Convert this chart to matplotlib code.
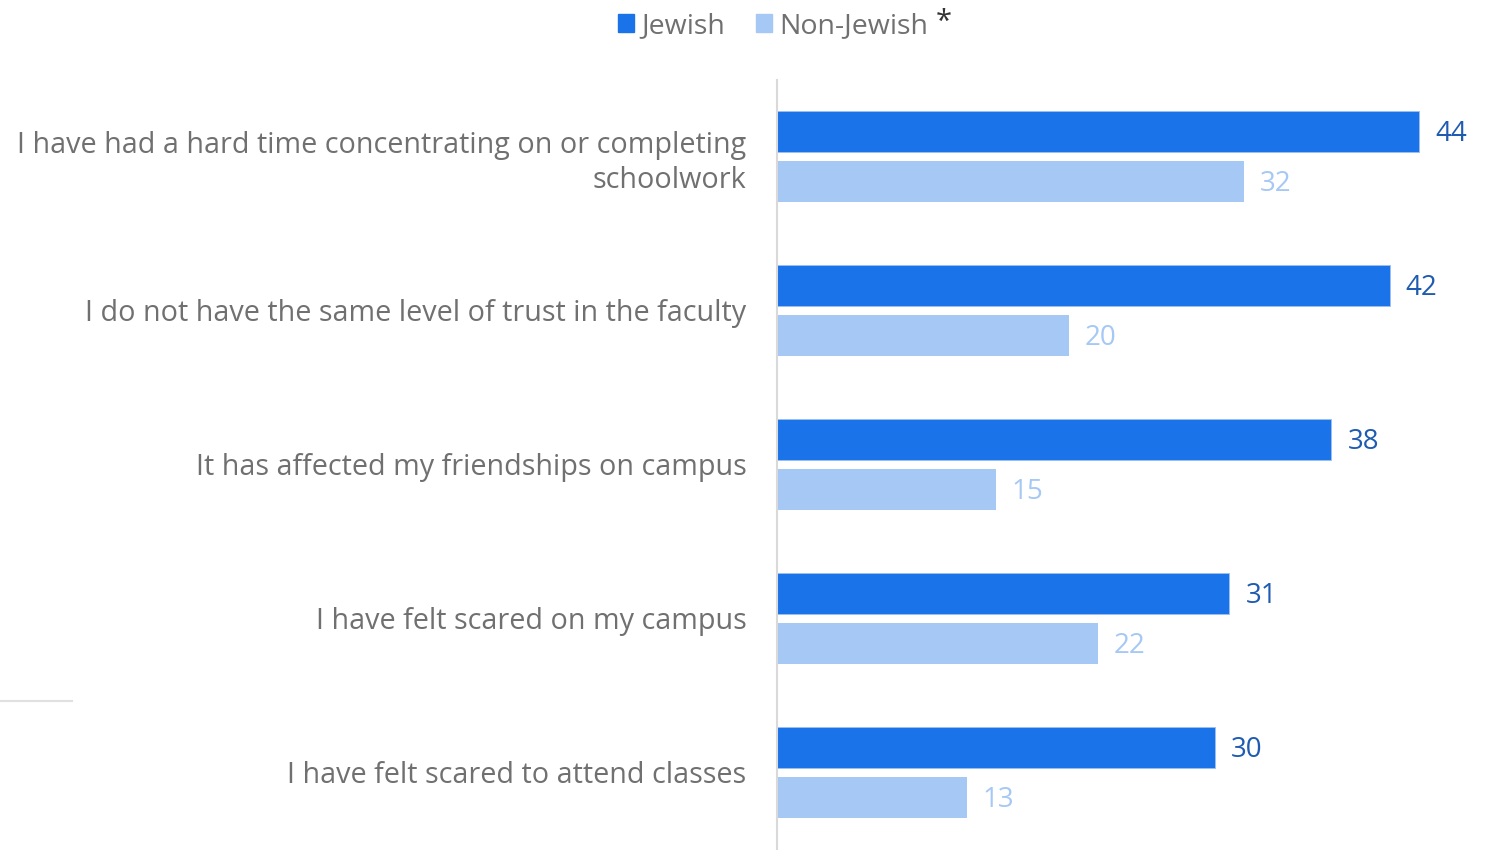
import matplotlib.pyplot as plt
from matplotlib.patches import Patch
from matplotlib.lines import Line2D

# data
categories = ['I have had a hard time concentrating on or completing\nschoolwork',
              'I do not have the same level of trust in the faculty',
              'It has affected my friendships on campus',
              'I have felt scared on my campus',
              'I have felt scared to attend classes']
jewish = [44, 42, 38, 31, 30]
non_jewish = [32, 20, 15, 22, 13]
series_names = ['Jewish', 'Non-Jewish']

# style
c_jew = '#1a73e8'
c_non = '#a6c8f5'
c_jew_txt = '#1f5bb0'
c_grey = '#707070'
plt.rcParams['font.family'] = ['Open Sans', 'DejaVu Sans']

fig = plt.figure(figsize=(14.99, 8.5), dpi=100)
ax = fig.add_axes([777 / 1499, 0, 722 / 1499, 770 / 850])

gap = 50 / 154
h = 41 / 154
ypos = list(range(len(categories)))
ax.barh([y for y in ypos], jewish, height=h, color=c_jew, edgecolor='#9cc0f0', linewidth=0.6)
ax.barh([y + gap for y in ypos], non_jewish, height=h, color=c_non, linewidth=0)

dy = 3 / 154  # nudge labels down a little
for y, v in zip(ypos, jewish):
    ax.text(v + 1.1, y + dy, str(v), va='center', ha='left', fontsize=20, color=c_jew_txt)
for y, v in zip(ypos, non_jewish):
    ax.text(v + 1.1, y + gap + dy, str(v), va='center', ha='left', fontsize=20, color=c_non)

ax.set_yticks([y + gap / 2 for y in ypos])
ax.set_yticklabels(categories, fontsize=20.7, color=c_grey, linespacing=1.28)
ax.tick_params(axis='y', length=0, pad=22)
ax.set_xticks([])
ax.set_xlim(0, 722 / (642 / 44))
ax.set_ylim(4 + gap + 53 / 154, -51.5 / 154)
for s in ['top', 'right', 'bottom']:
    ax.spines[s].set_visible(False)
ax.spines['left'].set_color('#d9d9d9')
ax.spines['left'].set_linewidth(1.5)

# legend
handles = [Patch(color=c_jew), Patch(color=c_non)]
fig.legend(handles, series_names, loc='center', bbox_to_anchor=(0.5 * (612 + 934) / 1499, 1 - 26 / 850),
           ncol=2, frameon=False, fontsize=20.5, handlelength=0.55, handleheight=0.55,
           handletextpad=0.25, columnspacing=1.1, labelcolor=c_grey, borderpad=0, borderaxespad=0)
fig.text(936 / 1499, 1 - 22 / 850, '*', fontsize=21, color='#333333', ha='left', va='center')

# small separator at left
fig.add_artist(Line2D([0, 72 / 1499], [1 - 701 / 850, 1 - 701 / 850], color='#e0e0e0', linewidth=1.5))

fig.savefig('out.png', dpi=100)
